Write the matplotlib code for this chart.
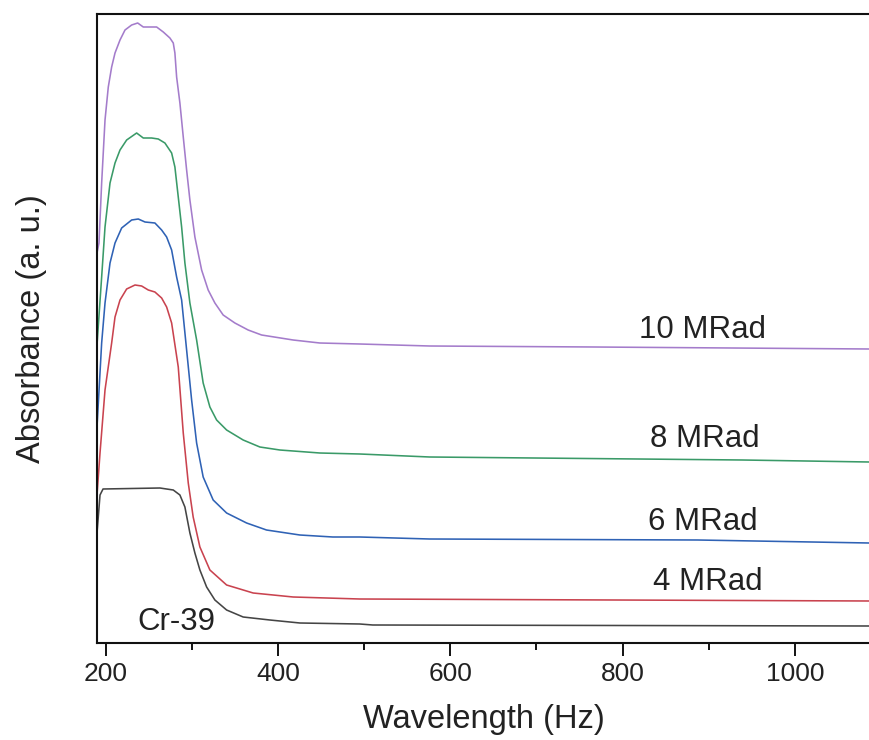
import numpy as np
import matplotlib
matplotlib.use('Agg')
from matplotlib import pyplot as plt
from matplotlib.ticker import MultipleLocator

plt.rcParams['font.family'] = ['Liberation Sans', 'DejaVu Sans']

# 吸收谱数据 (波长, 吸光度 a.u.)
wl_cr39 = [190, 193.5, 197, 263, 278.5, 286.2, 292, 297.8, 303.6, 309.4, 317.2, 326.8,
           340.4, 359.6, 390.6, 425.4, 494.9, 510, 1086]
ab_cr39 = [1.10, 1.48, 1.54, 1.55, 1.53, 1.48, 1.36, 1.10, 0.90, 0.73, 0.56, 0.43,
           0.33, 0.26, 0.23, 0.20, 0.19, 0.18, 0.17]

wl_4 = [190, 193.5, 199.3, 207, 210.9, 216.7, 224.4, 234.1, 241.8, 249.5, 257.2, 265,
        270.8, 276.6, 284.3, 290.1, 295.9, 301.6, 309.4, 321, 340.4, 371.2, 417.6,
        494.9, 1086]
ab_4 = [1.48, 1.90, 2.53, 3.00, 3.26, 3.43, 3.54, 3.58, 3.57, 3.53, 3.51, 3.45,
        3.36, 3.20, 2.76, 2.10, 1.60, 1.26, 0.96, 0.73, 0.58, 0.50, 0.46,
        0.44, 0.42]

wl_6 = [190, 195.4, 199.3, 205.1, 210.9, 218.6, 230.2, 237.9, 245.7, 257.2, 265,
        270.8, 276.6, 282.4, 288.2, 294, 299.8, 305.6, 313.2, 324.8, 340.4, 363.6,
        386.7, 425.4, 463.6, 494.9, 576, 887, 1086]
ab_6 = [2.16, 3.00, 3.40, 3.80, 4.00, 4.15, 4.23, 4.24, 4.21, 4.20, 4.13,
        4.06, 3.93, 3.66, 3.43, 2.93, 2.43, 2.00, 1.66, 1.43, 1.30, 1.20,
        1.13, 1.08, 1.06, 1.06, 1.04, 1.03, 1.00]

wl_8 = [190, 195.4, 199.3, 205.1, 210.9, 216.7, 224.4, 236, 243.7, 253.4, 261.1,
        268.8, 276.6, 280.4, 284.3, 288.2, 292, 297.8, 305.6, 313.2, 321, 328.8,
        340.4, 359.6, 379, 402.2, 448.5, 494.9, 576, 939, 1086]
ab_8 = [2.98, 3.66, 4.16, 4.60, 4.80, 4.93, 5.03, 5.10, 5.05, 5.05, 5.04,
        5.00, 4.90, 4.76, 4.46, 4.16, 3.80, 3.40, 3.03, 2.60, 2.36, 2.23,
        2.13, 2.03, 1.96, 1.93, 1.90, 1.89, 1.86, 1.83, 1.81]

wl_10 = [190, 192.3, 195.4, 199.3, 203.1, 207, 210.9, 216.7, 222.5, 230.2, 237.2,
         243.7, 251.4, 259.2, 266.9, 274.6, 278.5, 280.4, 282.4, 286.2, 290.1, 294,
         297.8, 303.6, 311.4, 319, 326.8, 336.4, 350, 365.4, 381, 417.6, 448.5,
         494.9, 576, 767, 1086]
ab_10 = [3.90, 4.00, 4.60, 5.23, 5.56, 5.76, 5.90, 6.03, 6.13, 6.18, 6.20,
         6.16, 6.16, 6.16, 6.11, 6.05, 6.00, 5.90, 5.66, 5.40, 5.06, 4.73,
         4.43, 4.06, 3.73, 3.53, 3.40, 3.28, 3.20, 3.13, 3.08, 3.03, 3.00,
         2.99, 2.97, 2.96, 2.94]

fig = plt.figure(figsize=(8.7, 7.4), dpi=100)
ax = fig.add_axes([97 / 870, 97 / 740, 1 - 97 / 870, 629 / 740])

line_kw = dict(lw=1.15, solid_joinstyle='round')
ax.plot(wl_cr39, ab_cr39, color='#454545', **line_kw)
ax.plot(wl_4, ab_4, color='#c9434f', **line_kw)
ax.plot(wl_6, ab_6, color='#2f62b5', **line_kw)
ax.plot(wl_8, ab_8, color='#3a9a68', **line_kw)
ax.plot(wl_10, ab_10, color='#a47ccb', **line_kw)

txt = dict(fontsize=22.5, color='#222222', ha='center', va='baseline')
ax.text(893, 3.05, '10 MRad', **txt)
ax.text(895, 1.96, '8 MRad', **txt)
ax.text(893, 1.13, '6 MRad', **txt)
ax.text(899, 0.53, '4 MRad', **txt)
ax.text(282, 0.13, 'Cr-39', **txt)

ax.set_xlim(190, 1087)
ax.set_ylim(0, 6.29)
ax.xaxis.set_major_locator(MultipleLocator(200))
ax.xaxis.set_minor_locator(MultipleLocator(100))
ax.set_yticks([])
ax.tick_params(axis='x', which='major', length=9.5, width=1.3, pad=4,
               labelsize=19, labelcolor='#222222', direction='out')
ax.tick_params(axis='x', which='minor', length=5, width=1.3, direction='out')

for s in ['left', 'top', 'bottom']:
    ax.spines[s].set_linewidth(1.5)
    ax.spines[s].set_color('#111111')
ax.spines['right'].set_visible(False)

ax.set_xlabel('Wavelength (Hz)', fontsize=23.5, color='#222222', labelpad=13)
ax.set_ylabel('Absorbance (a. u.)', fontsize=23.5, color='#222222', labelpad=36)

plt.savefig('out.png', dpi=100)
